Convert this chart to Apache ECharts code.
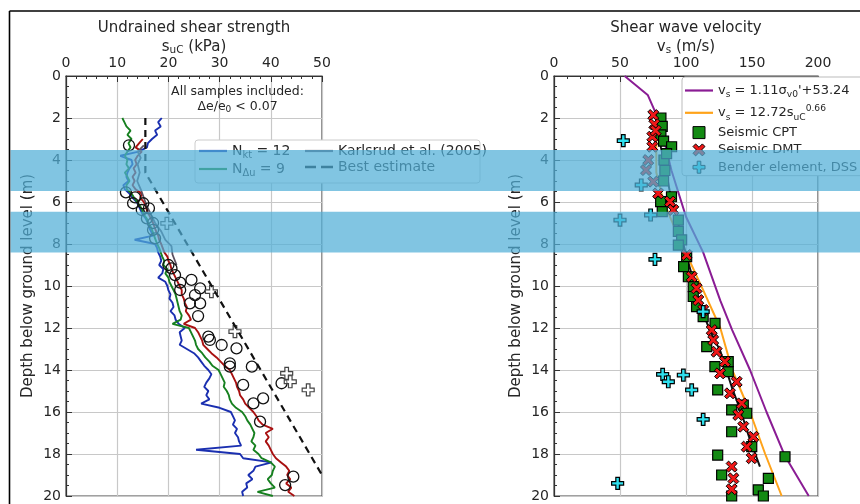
<!DOCTYPE html>
<html><head><meta charset="utf-8">
<script src="https://cdn.jsdelivr.net/npm/echarts@6/dist/echarts.min.js"></script>
<style>html,body{margin:0;padding:0;background:#fff}#c{width:860px;height:504px}</style>
</head><body><div id="c"></div>
<script>
// ---------- DATA ----------
// Left panel: undrained shear strength s_uC (kPa) vs depth (m)
const cptDepth = [2.0,2.2,2.4,2.6,2.8,3.0,3.2,3.4,3.6,3.8,4.0,4.2,4.4,4.6,4.8,5.0,5.2,5.4,5.6,5.8,
  6.0,6.2,6.4,6.6,6.8,7.0,7.2,7.4,7.6,7.8,8.0,8.2,8.4,8.6,8.8,9.0,9.2,9.4,9.6,9.8,
  10.0,10.2,10.4,10.6,10.8,11.0,11.2,11.4,11.6,11.8,12.0,12.2,12.4,12.6,12.8,13.0,13.2,13.4,13.6,13.8,
  14.0,14.2,14.4,14.6,14.8,15.0,15.2,15.4,15.6,15.8,16.0,16.2,16.4,16.6,16.8,17.0,17.2,17.4,17.6,17.8,
  18.0,18.2,18.4,18.6,18.8,19.0,19.2,19.4,19.6,19.8,20.0];
const suNkt12 = [18.7,18.0,18.5,17.4,17.8, 16.8,16.0,15.8,14.2,10.6, 12.8,13.0,12.4,12.0,11.8,
  12.2,11.2,11.5,12.4,13.0, 13.8,14.2,14.6,15.0,15.6, 16.0,16.2,16.6,17.0,13.4,
  17.4,17.8,18.0,18.4,18.6, 18.2,19.0,18.8,18.0,19.4, 19.8,20.0,20.4,20.2,20.8,
  21.0,20.4,21.2,21.4,22.0, 23.2,22.2,22.4,22.6,22.2, 23.6,25.0,25.8,26.4,27.0,
  27.8,28.4,28.0,27.4,27.0, 27.8,27.4,28.0,26.4,30.0, 32.2,32.6,33.0,32.6,33.4,
  33.0,33.6,33.8,34.2,25.4, 34.0,34.6,40.2,37.0,36.6, 35.6,36.4,35.2,35.4,34.4, 34.6];
const suNdu9 = [11.0,11.4,11.8,12.6,12.0, 12.8,12.2,12.6,12.0,11.5, 12.0,11.8,12.3,11.5,12.0,
  12.4,11.8,11.9,12.8,13.3, 13.9,14.5,14.9,15.2,15.8, 16.0,16.6,16.9,17.2,17.5,
  17.8,18.2,18.5,18.8,19.2, 19.0,19.8,19.4,20.0,20.2, 20.6,21.0,21.4,21.6,21.8,
  22.0,22.2,22.6,22.4,20.8, 24.0,24.4,24.8,25.2,25.4, 25.8,26.6,27.2,28.0,28.6,
  29.8,30.2,30.6,31.0,30.8, 31.4,31.8,32.0,32.4,33.2, 34.4,35.0,35.4,36.0,36.4,
  36.8,36.6,36.2,37.0,36.6, 37.6,38.2,40.0,40.8,40.4, 40.2,39.4,40.0,40.8,37.4, 40.4];
const suRed = [null,null,null,null,null, 15.0,14.3,13.6,14.8,14.0, 13.5,13.8,13.2,13.6,13.0,
  13.4,13.0,13.6,14.8,14.5, 15.2,15.6,15.8,16.2,16.6, 17.0,17.3,17.6,18.0,18.2,
  18.6,18.9,19.2,19.8,20.0, 20.4,20.6,21.0,21.4,21.8, 22.2,22.6,22.6,23.0,23.2,
  23.6,23.4,24.0,24.4,23.0, 25.2,25.8,26.2,26.6,26.8, 27.6,28.4,29.4,30.2,31.0,
  32.0,32.4,32.8,33.2,33.4, 33.8,34.0,34.6,35.0,35.8, 36.6,37.2,37.6,38.4,40.4,
  39.0,39.6,39.0,39.6,40.0, 40.4,41.0,42.0,43.0,43.6, 43.2,43.8,43.0,44.0,43.4, 44.6];
const karlS = [15.2,14.0,14.6,14.0,14.4,13.9,14.6,15.2,15.8,16.6,17.4,18.6,19.4,20.6,20.8,21.6];
const karlD = [3.3,3.6,3.9,4.2,4.6,5.0,5.4,5.8,6.2,6.6,7.0,7.4,7.8,8.1,8.5,9.0];
const bestS = [15.5,15.5,50.0];
const bestD = [2.0,4.6,19.0];
const circS = [12.3,11.7,13.5,13.1,15.1,14.8,16.2,15.8,17.0,17.0,17.4,20.0,20.6,21.3,22.3,22.3,24.5,26.2,25.2,24.2,
  26.2,25.8,27.8,28.1,30.4,32.0,32.0,33.3,36.3,34.6,42.1,38.5,36.6,37.9,44.4,42.8];
const circD = [3.3,5.54,5.78,6.06,6.06,6.38,6.3,6.78,7.0,7.33,7.73,9.0,9.16,9.48,9.84,10.19,9.71,10.11,10.43,10.83,
  10.83,11.43,12.41,12.57,12.81,13.68,13.84,12.97,13.84,14.71,14.63,15.35,15.59,16.46,19.08,19.48];
const openPlusS = [19.7,28.4,33.0,43.1,43.8,47.3];
const openPlusD = [7.02,10.27,12.17,14.16,14.56,14.95];
// Right panel: shear wave velocity vs depth
const purpleV = [53.5,71.0,78.0,84.0,89.0,100.0,113.0,126.0,135.0,148.5,161.0,175.0,193.0];
const purpleD = [0,0.9,1.9,3.2,4.5,6.7,8.4,10.7,12.1,14.0,16.0,18.1,20.0];
const orangeV = [77.5,77.5,83.0,92.0,100.5,113.0,126.0,135.0,148.5,160.0,172.5];
const orangeD = [1.9,4.6,6.0,7.3,8.5,10.2,12.0,14.0,16.0,18.0,20.0];
const dmtLineV = [79,80,81,84,88,92,96,100,105,110,118,126,134.6,142,148.5,156];
const dmtLineD = [1.9,2.8,3.4,4.2,5.6,6.5,7.5,8.5,9.6,10.8,12.1,13.1,14.8,16.06,17.33,18.6];
const cptV = [81,82,81,83,89.1,83.3,89,80.8,82,94.2,94.2,96.7,94.2,100.5,98.2,101.8,105.5,105.5,108,113,
  122,115.7,121.9,132,132,124,134.6,143.4,146,134.6,149.8,124,175,127,162.4,154.8,158.6,134.6,84,83,85.3];
const cptD = [2.0,2.4,2.8,3.1,3.37,4.0,5.75,5.98,6.46,6.86,7.4,7.8,8.05,8.6,9.08,9.56,10.03,10.5,10.98,11.46,
  11.78,12.89,13.84,14.08,13.6,14.95,15.9,15.67,16.06,16.94,17.65,18.05,18.13,19.0,19.16,19.71,20.0,20.0,4.5,5.0,3.7];
const dmtV = [75.2,74.5,74.5,71.4,69.7,75.2,78.9,87.9,90.4,100.5,104.3,108,109.3,113,119.5,120.6,123.2,129.5,125.8,138.4,
  133.3,142.2,139.6,143.4,151,146,149.8,134.6,135.9,134.6,76,77];
const dmtD = [1.86,2.89,3.37,4.0,4.48,5.03,5.59,5.98,6.38,8.52,9.56,10.11,10.67,11.14,12.1,12.57,13.13,13.6,14.16,14.56,
  15.11,15.59,16.14,16.7,17.18,17.65,18.2,18.6,19.16,19.68,2.3,2.6];
const bendV = [52.5,66.1,50,73.2,76.5,113,82.3,86.6,98,104.3,113,48.2];
const bendD = [3.08,5.19,6.86,6.62,8.73,11.22,14.21,14.56,14.24,14.95,16.35,19.4];
// tick / band info
const depthTicks = {min:0, max:20, interval:2};
const suTicks = {min:0, max:50, interval:10};
const vsTicks = {min:0, max:200, interval:50};
const bands = [[3.52,5.48],[6.46,8.41]];

// ---------- CHART ----------
const FONT = 'DejaVu Sans';
const TXT = '#262626';
const C = {blue:'#1a2fb0', green:'#16801f', red:'#a81010', karl:'#5b5060', best:'#111', purple:'#8a1c94',
  orange:'#ffa31a', cpt:'#138a13', dmt:'#f01818', bender:'#2ee0ee'};
function pairs(xs, ys){ const o=[]; for(let i=0;i<xs.length;i++){ if(xs[i]!=null) o.push([xs[i], ys[i]]); } return o; }
const PLUS = 'path://M3.5,0H6.5V3.5H10V6.5H6.5V10H3.5V6.5H0V3.5H3.5Z';
const CROSS = 'path://M0,2.2L2.2,0L5,2.8L7.8,0L10,2.2L7.2,5L10,7.8L7.8,10L5,7.2L2.2,10L0,7.8L2.8,5Z';
const SQUARE = 'path://M0,0H10V10H0Z';
const LINE_ICON = 'path://M0,0H28V2.2H0Z';
const DASH_ICON = 'path://M0,0H11V2.6H0ZM16,0H28V2.6H16Z';

function richSet(fs){
  return {
    n:{fontFamily:FONT,fontSize:fs,lineHeight:18,color:TXT},
    s:{fontFamily:FONT,fontSize:fs*0.7,lineHeight:10,verticalAlign:'bottom',color:TXT},
    p:{fontFamily:FONT,fontSize:fs*0.7,lineHeight:10,verticalAlign:'top',color:TXT}
  };
}
const legendText = {
  Nkt:'{n|N}{s|kt}{n| = 12}', Ndu:'{n|N}{s|Δu}{n| = 9}',
  Karlsrud:'{n|Karlsrud et al. (2005)}', Best:'{n|Best estimate}',
  VsSigma:"{n|v}{s|s}{n| = 1.11σ}{s|v0}{n|'+53.24}",
  VsSu:'{n|v}{s|s}{n| = 12.72s}{s|uC}{p|0.66}',
  CPT:'{n|Seismic CPT}', DMT:'{n|Seismic DMT}', Bender:'{n|Bender element, DSS}'
};
function xAx(gi, t, name){
  return {gridIndex:gi, type:'value', position:'top', min:t.min, max:t.max, interval:t.interval,
    name:name, nameLocation:'middle', nameGap:20, nameMoveOverlap:false,
    nameTextStyle:{rich:{i:{fontFamily:FONT,fontSize:15,lineHeight:18,color:TXT},
                         s:{fontFamily:FONT,fontSize:10.5,lineHeight:10,verticalAlign:'bottom',color:TXT}}},
    axisLine:{show:true,lineStyle:{color:'#333',width:1.2}},
    axisTick:{inside:true,length:6,lineStyle:{color:'#333'}},
    minorTick:{show:true,splitNumber:5,length:3,lineStyle:{color:'#333'}},
    axisLabel:{fontFamily:FONT,fontSize:14,color:TXT,margin:6},
    splitLine:{show:true,lineStyle:{color:'#c8c8c8',width:1.2}}};
}
function yAx(gi){
  return {gridIndex:gi, type:'value', inverse:true, min:depthTicks.min, max:depthTicks.max, interval:depthTicks.interval,
    name:'Depth below ground level (m)', nameLocation:'middle', nameGap:30, nameRotate:90, nameMoveOverlap:false,
    nameTextStyle:{fontFamily:FONT,fontSize:15,color:TXT},
    axisLine:{show:true,lineStyle:{color:'#333',width:1.2}},
    axisTick:{inside:true,length:6,lineStyle:{color:'#333'}},
    minorTick:{show:true,splitNumber:4,length:3,lineStyle:{color:'#333'}},
    axisLabel:{fontFamily:FONT,fontSize:14,color:TXT,margin:5},
    splitLine:{show:true,lineStyle:{color:'#c8c8c8',width:1.2}}};
}
function lineS(name, gi, xs, ys, color, width, type, z){
  return {type:'line', name:name, xAxisIndex:gi, yAxisIndex:gi, data:pairs(xs,ys), symbol:'none', showSymbol:false,
    lineStyle:{color:color,width:width,type:type||'solid'}, itemStyle:{color:color}, silent:true, z:z||2};
}
function scat(name, gi, xs, ys, symbol, size, fill, border, bw){
  return {type:'scatter', name:name, xAxisIndex:gi, yAxisIndex:gi, data:pairs(xs,ys), symbol:symbol, symbolSize:size,
    itemStyle:{color:fill,borderColor:border,borderWidth:bw,opacity:1}, silent:true, z:3};
}
function li(name, icon, color, border, bw){
  return {name:name, icon:icon, itemStyle:{color:color, borderColor:border||color, borderWidth:bw||0, opacity:1}};
}
const legBase = {orient:'vertical', itemWidth:28, itemHeight:12, itemGap:2, padding:0, selectedMode:false, symbolKeepAspect:true,
  formatter:function(n){return legendText[n];}};

const chart = echarts.init(document.getElementById('c'), null, {renderer:'canvas'});
chart.setOption({
  animation:false,
  backgroundColor:'#fff',
  grid:[
    {left:66, top:76, width:256, height:420, show:true, borderColor:'#444', borderWidth:1.2, outerBoundsMode:'none'},
    {left:554, top:76, width:264, height:420, show:true, borderColor:'#444', borderWidth:1.2, outerBoundsMode:'none'}
  ],
  xAxis:[xAx(0, suTicks, '{i|s}{s|uC}{i| (kPa)}'), xAx(1, vsTicks, '{i|v}{s|s}{i| (m/s)}')],
  yAxis:[yAx(0), yAx(1)],
  legend:[
    Object.assign({}, legBase, {left:199, top:144,
      data:[li('Nkt',LINE_ICON,C.blue), li('Ndu',LINE_ICON,C.green)],
      textStyle:{fontFamily:FONT,fontSize:14,color:TXT,rich:richSet(14)}}),
    Object.assign({}, legBase, {left:305, top:144,
      data:[li('Karlsrud',LINE_ICON,C.karl), li('Best',DASH_ICON,C.best)],
      textStyle:{fontFamily:FONT,fontSize:14,color:TXT,rich:richSet(14)}}),
    Object.assign({}, legBase, {left:682, top:77, itemGap:4.3, padding:[7,40,2,3],
      data:[li('VsSigma',LINE_ICON,C.purple), li('VsSu',LINE_ICON,C.orange),
            li('CPT',SQUARE,C.cpt,'#000',1), li('DMT',CROSS,C.dmt,'#000',1), li('Bender',PLUS,C.bender,'#000',1)],
      backgroundColor:'#fff', borderColor:'#bbb', borderWidth:1, borderRadius:3,
      textStyle:{fontFamily:FONT,fontSize:13,color:TXT,rich:richSet(13)}})
  ],
  series:[
    lineS('Nkt',0,suNkt12,cptDepth,C.blue,1.9),
    lineS('Ndu',0,suNdu9,cptDepth,C.green,1.9),
    lineS('Red',0,suRed,cptDepth,C.red,1.9),
    lineS('Karlsrud',0,karlS,karlD,C.karl,1.8),
    scat('Circles',0,circS,circD,'circle',11,'rgba(255,255,255,0)','#111',1.3),
    scat('OpenPlus',0,openPlusS,openPlusD,PLUS,12,'rgba(255,255,255,0.5)','#444',1.2),
    lineS('Best',0,bestS,bestD,C.best,2.2,[7,5],4),
    lineS('VsSigma',1,purpleV,purpleD,C.purple,2),
    lineS('VsSu',1,orangeV,orangeD,C.orange,2),
    scat('CPT',1,cptV,cptD,'rect',10,C.cpt,'#000',1.2),
    lineS('DMTline',1,dmtLineV,dmtLineD,'#111',2,'solid',3),
    scat('DMT',1,dmtV,dmtD,CROSS,11,C.dmt,'#000',1),
    scat('Bender',1,bendV,bendD,PLUS,12,C.bender,'#000',1.2)
  ]
});

// decorations positioned through the axes
const yPix = d => chart.convertToPixel({gridIndex:0}, [0, d])[1];
const ann = chart.convertToPixel({gridIndex:0}, [33.5, 1.1]);
const graphics = [
  {type:'rect', z:3, shape:{x:195,y:140,width:285,height:43,r:3}, style:{fill:'#fff',stroke:'#ccc',lineWidth:1}},
  {type:'text', z:5, x:194, y:28, style:{text:'Undrained shear strength', font:'15px "DejaVu Sans"', fill:TXT, align:'center', verticalAlign:'middle', textAlign:'center', textVerticalAlign:'middle'}},
  {type:'text', z:5, x:686, y:28, style:{text:'Shear wave velocity', font:'15px "DejaVu Sans"', fill:TXT, align:'center', verticalAlign:'middle', textAlign:'center', textVerticalAlign:'middle'}},
  {type:'text', z:5, x:ann[0], y:ann[1], style:{text:'{a|All samples included:}\n{a|Δe/e}{s|0}{a| < 0.07}',
    rich:{a:{fontFamily:FONT,fontSize:12.5,lineHeight:15,fill:TXT,color:TXT}, s:{fontFamily:FONT,fontSize:9,lineHeight:9,verticalAlign:'bottom',fill:TXT,color:TXT}},
    align:'center', verticalAlign:'middle', textAlign:'center', textVerticalAlign:'middle'}},
  {type:'line', z:20, shape:{x1:9.5,y1:11,x2:860,y2:11}, style:{stroke:'#000',lineWidth:1.6}},
  {type:'line', z:20, shape:{x1:9.5,y1:11,x2:9.5,y2:504}, style:{stroke:'#000',lineWidth:1.6}}
];
bands.forEach(b => {
  const y1 = yPix(b[0]), y2 = yPix(b[1]);
  graphics.push({type:'rect', z:10, shape:{x:10.5, y:y1, width:850, height:y2-y1}, style:{fill:'rgba(80,175,215,0.72)'}});
});
chart.setOption({graphic:graphics});
</script>
</body></html>
